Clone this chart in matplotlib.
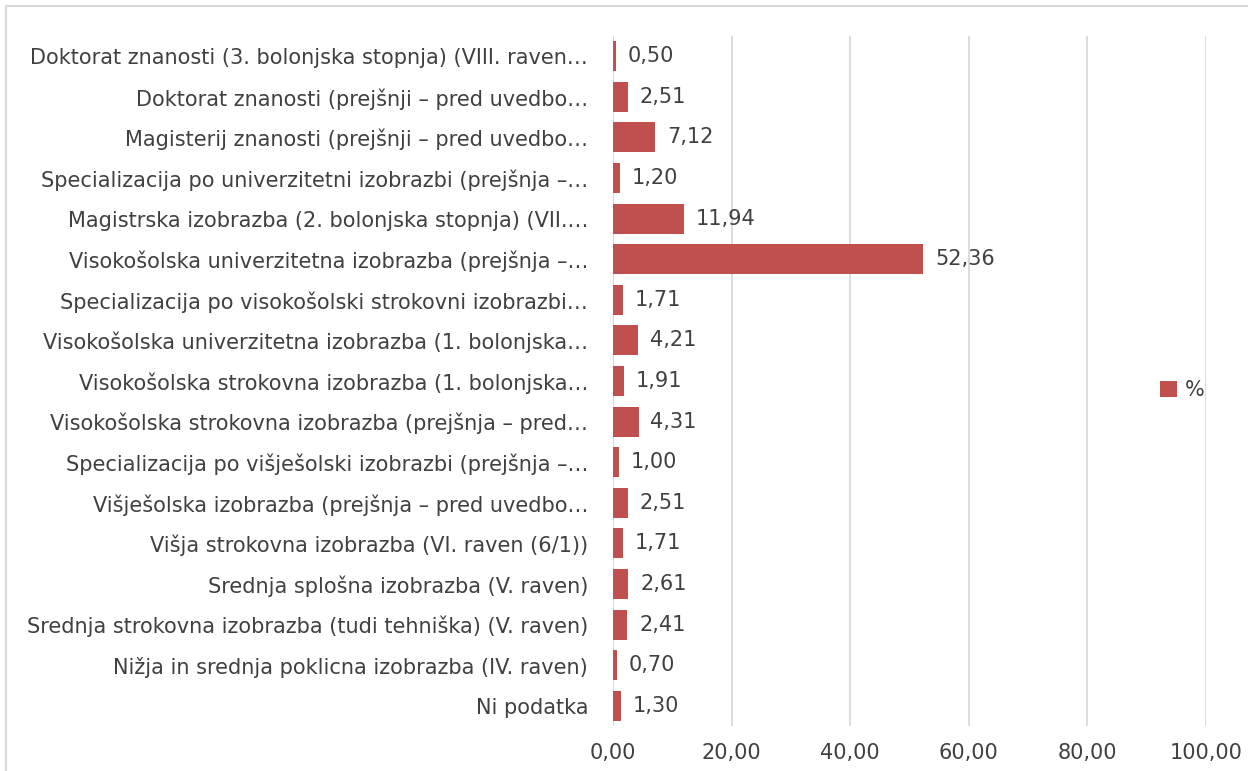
import matplotlib.pyplot as plt
from matplotlib.patches import Rectangle

categories = [
    "Doktorat znanosti (3. bolonjska stopnja) (VIII. raven…",
    "Doktorat znanosti (prejšnji – pred uvedbo…",
    "Magisterij znanosti (prejšnji – pred uvedbo…",
    "Specializacija po univerzitetni izobrazbi (prejšnja –…",
    "Magistrska izobrazba (2. bolonjska stopnja) (VII.…",
    "Visokošolska univerzitetna izobrazba (prejšnja –…",
    "Specializacija po visokošolski strokovni izobrazbi…",
    "Visokošolska univerzitetna izobrazba (1. bolonjska…",
    "Visokošolska strokovna izobrazba (1. bolonjska…",
    "Visokošolska strokovna izobrazba (prejšnja – pred…",
    "Specializacija po višješolski izobrazbi (prejšnja –…",
    "Višješolska izobrazba (prejšnja – pred uvedbo…",
    "Višja strokovna izobrazba (VI. raven (6/1))",
    "Srednja splošna izobrazba (V. raven)",
    "Srednja strokovna izobrazba (tudi tehniška) (V. raven)",
    "Nižja in srednja poklicna izobrazba (IV. raven)",
    "Ni podatka",
]
values = [0.50, 2.51, 7.12, 1.20, 11.94, 52.36, 1.71, 4.21, 1.91,
          4.31, 1.00, 2.51, 1.71, 2.61, 2.41, 0.70, 1.30]
xticks = [0, 20, 40, 60, 80, 100]

txt = "#404040"
bar_col = "#C0504D"
grid_col = "#D9D9D9"
fs = 15

fig = plt.figure(figsize=(12.48, 7.71), dpi=100)
fig.patches.append(Rectangle((6 / 1248, -0.1), 1.2, 1 - 6 / 771 + 0.1,
                             transform=fig.transFigure, fill=False,
                             edgecolor=grid_col, linewidth=1.5))

ax = fig.add_axes([613 / 1248, 1 - 726 / 771, (1206 - 613) / 1248, (726 - 36) / 771])
y = list(range(len(categories)))
ax.barh(y, values, height=0.74, color=bar_col, label="%", zorder=3)
ax.set_ylim(len(categories) - 0.5, -0.5)
ax.set_xlim(0, 100)
ax.set_yticks(y)
ax.set_yticklabels(categories, fontsize=fs, color=txt)
ax.set_xticks(xticks)
ax.set_xticklabels([f"{v:.2f}".replace(".", ",") for v in xticks], fontsize=fs, color=txt)
ax.tick_params(length=0)
ax.tick_params(axis="y", pad=18)
ax.tick_params(axis="x", pad=12)
ax.xaxis.grid(True, color=grid_col, linewidth=1.3)
for s in ax.spines.values():
    s.set_visible(False)
ax.axvline(0, color=grid_col, linewidth=1.3, zorder=2)

for yi, v in zip(y, values):
    ax.text(v + 2.0, yi, f"{v:.2f}".replace(".", ","), va="center", ha="left",
            fontsize=fs, color=txt)

leg = ax.legend(loc="center left", bbox_to_anchor=(1160 / 1248, 1 - 390 / 771),
                bbox_transform=fig.transFigure, frameon=False, fontsize=fs,
                handlelength=0.8, handleheight=0.8, handletextpad=0.4,
                borderaxespad=0, borderpad=0)
for t in leg.get_texts():
    t.set_color(txt)

fig.savefig("out.png", dpi=100)
